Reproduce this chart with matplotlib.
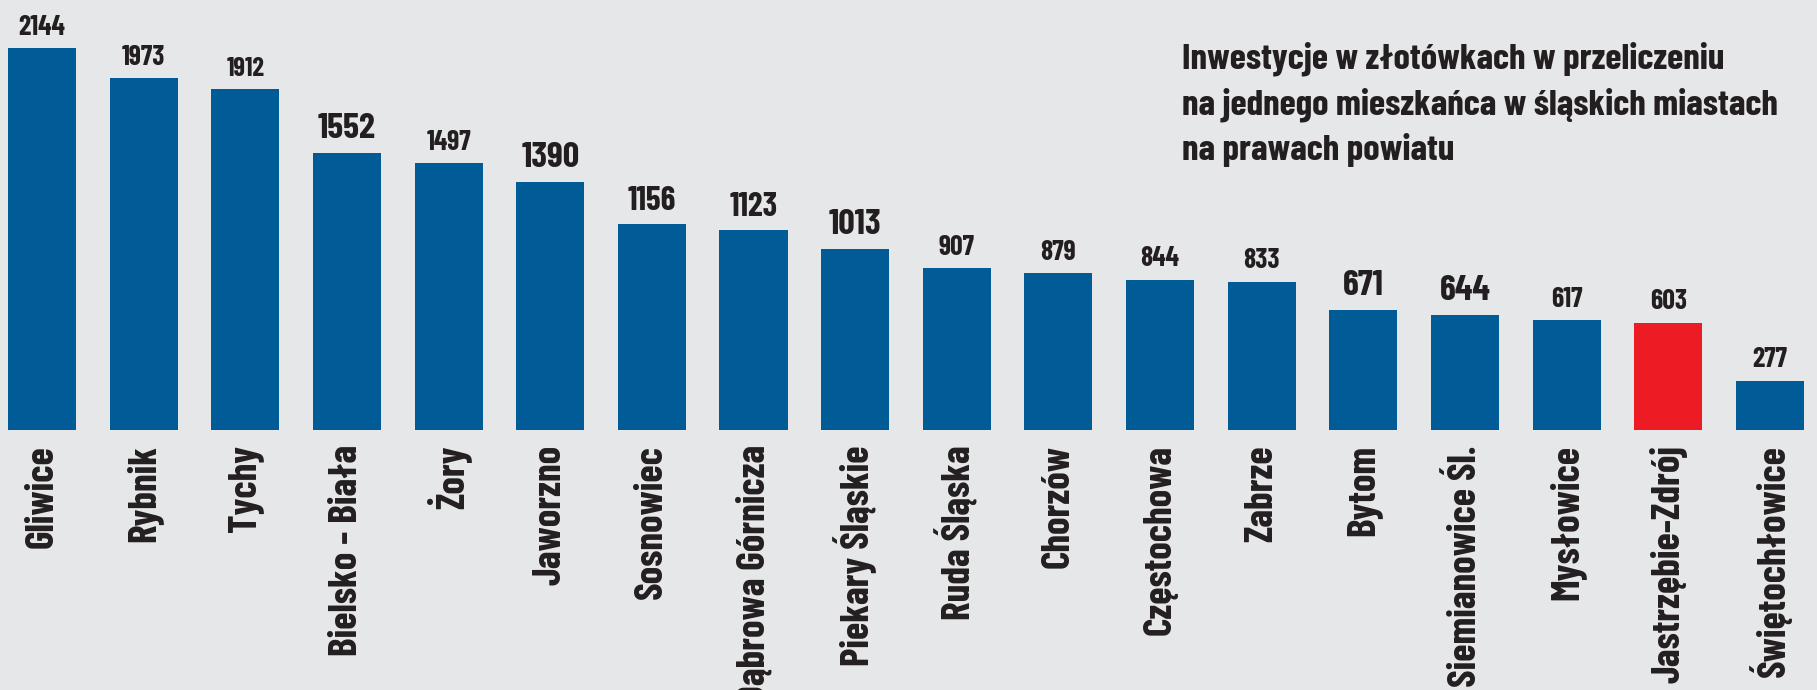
import matplotlib.pyplot as plt

cities = [
    "Gliwice", "Rybnik", "Tychy", "Bielsko - Biała", "Żory", "Jaworzno",
    "Sosnowiec", "Dąbrowa Górnicza", "Piekary Śląskie", "Ruda Śląska",
    "Chorzów", "Częstochowa", "Zabrze", "Bytom", "Siemianowice Śl.",
    "Mysłowice", "Jastrzębie-Zdrój", "Świętochłowice",
]
values = [2144, 1973, 1912, 1552, 1497, 1390, 1156, 1123, 1013, 907,
          879, 844, 833, 671, 644, 617, 603, 277]
highlight = "Jastrzębie-Zdrój"

title = ("Inwestycje w złotówkach w przeliczeniu\n"
         "na jednego mieszkańca w śląskich miastach\n"
         "na prawach powiatu")

BG = "#e6e7e9"
BLUE = "#005b96"
RED = "#ed1c24"
TXT = "#231f20"
FONT = ["Barlow Condensed", "DejaVu Sans"]

# the source uses a few different label sizes
label_size = {"1552": 26, "1390": 26, "1013": 26, "671": 26, "644": 26,
              "1156": 24, "1123": 24, "1912": 19}

fig = plt.figure(figsize=(18.17, 6.9), dpi=100, facecolor=BG)
ax = fig.add_axes([0, 260 / 690, 1, 430 / 690])
ax.set_facecolor(BG)

colors = [RED if c == highlight else BLUE for c in cities]
bars = ax.bar(range(len(cities)), values, width=0.67, color=colors)

texts = ax.bar_label(bars, padding=6, color=TXT, fontweight="bold",
                     fontsize=20, family=FONT)
for t in texts:
    t.set_fontsize(label_size.get(t.get_text(), 20))

ax.set_xlim(-0.413, 17.463)
ax.set_ylim(0, 2413)
ax.set_xticks(range(len(cities)))
ax.set_xticklabels(cities, rotation=90, ha="center", va="top",
                   fontsize=28.5, fontweight="bold", color=TXT, family=FONT)
ax.tick_params(axis="x", length=0, pad=11)
ax.set_yticks([])
for s in ax.spines.values():
    s.set_visible(False)

fig.text(1182 / 1817, 1 - 42 / 690, title, ha="left", va="top",
         fontsize=26.7, fontweight="bold", color=TXT, family=FONT,
         linespacing=1.4)

fig.savefig("out.png", dpi=100, facecolor=BG)
